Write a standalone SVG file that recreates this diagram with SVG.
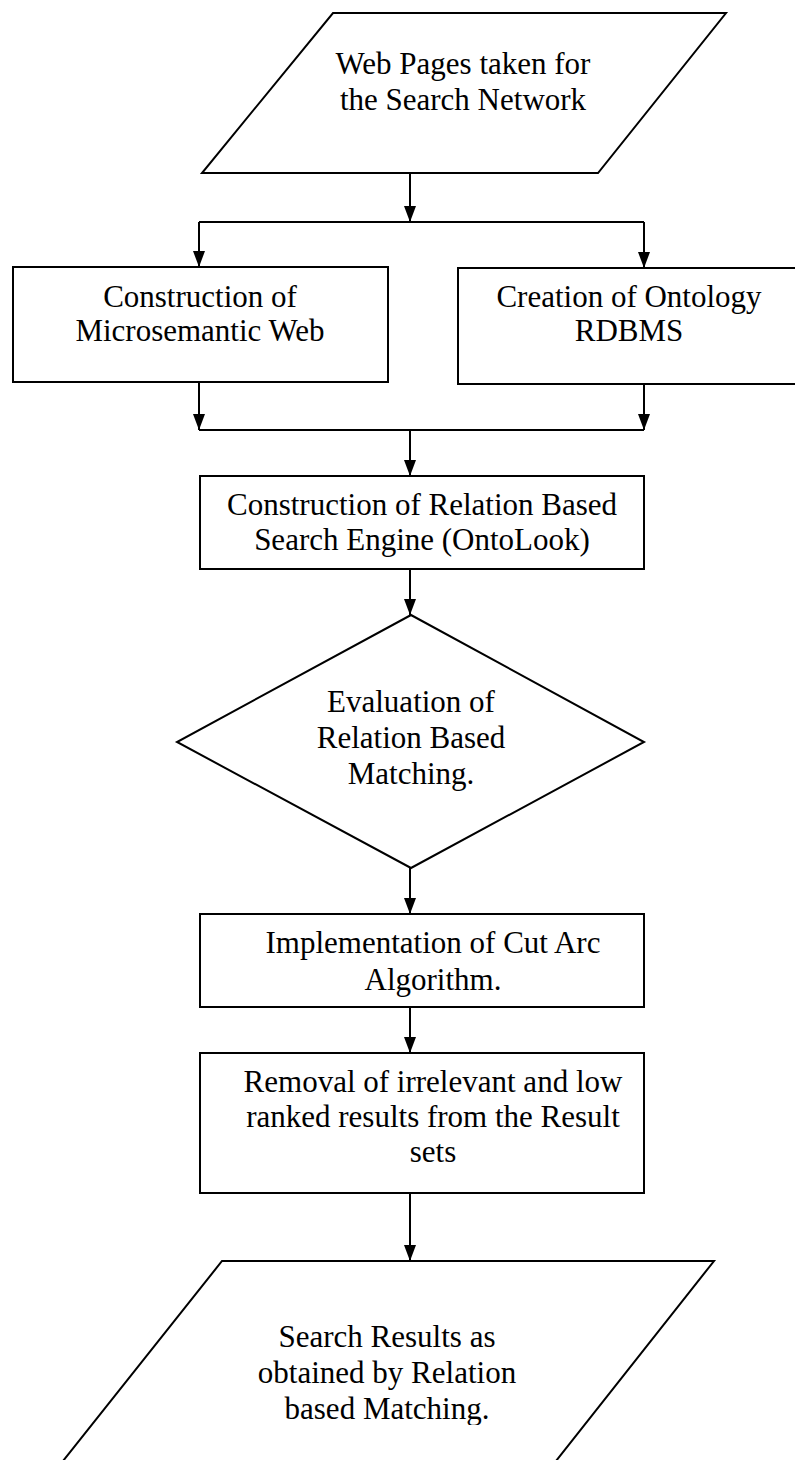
<svg xmlns="http://www.w3.org/2000/svg" width="795" height="1460" viewBox="0 0 795 1460">
<style>
.shape{fill:#fff;stroke:#000;stroke-width:2}
.conn{fill:none;stroke:#000;stroke-width:2}
.t{font-family:"Liberation Serif","Times New Roman",serif;font-size:31px;fill:#000;text-anchor:middle}
</style>
<defs>
<marker id="arr" viewBox="0 0 16 12" refX="16" refY="6" markerWidth="16" markerHeight="12" markerUnits="userSpaceOnUse" orient="auto">
<path d="M0,0 L16,6 L0,12 z" fill="#000"/>
</marker>
<clipPath id="clipBottom"><rect x="0" y="0" width="795" height="1425"/></clipPath>
</defs>
<rect x="0" y="0" width="795" height="1460" fill="#fff"/>

<g id="n-webpages">
<polygon class="shape" points="333,13 726,13 598,173 202,173"/>
<text class="t" x="463" y="74">Web Pages taken for</text>
<text class="t" x="463" y="110">the Search Network</text>
</g>

<g id="n-microsemantic">
<rect class="shape" x="13" y="267" width="375" height="115"/>
<text class="t" x="200" y="307">Construction of</text>
<text class="t" x="200" y="341">Microsemantic Web</text>
</g>

<g id="n-ontology">
<rect class="shape" x="458" y="268" width="345" height="116"/>
<text class="t" x="629" y="307">Creation of Ontology</text>
<text class="t" x="629" y="341">RDBMS</text>
</g>

<g id="n-searchengine">
<rect class="shape" x="200" y="476" width="444" height="93"/>
<text class="t" x="422" y="515">Construction of Relation Based</text>
<text class="t" x="422" y="550">Search Engine (OntoLook)</text>
</g>

<g id="n-evaluation">
<polygon class="shape" points="411,615 644,742 411,868 177,742"/>
<text class="t" x="411" y="712">Evaluation of</text>
<text class="t" x="411" y="748">Relation Based</text>
<text class="t" x="411" y="784">Matching.</text>
</g>

<g id="n-cutarc">
<rect class="shape" x="200" y="914" width="444" height="93"/>
<text class="t" x="433" y="953">Implementation of Cut Arc</text>
<text class="t" x="433" y="990">Algorithm.</text>
</g>

<g id="n-removal">
<rect class="shape" x="200" y="1053" width="444" height="140"/>
<text class="t" x="433" y="1092">Removal of irrelevant and low</text>
<text class="t" x="433" y="1127">ranked results from the Result</text>
<text class="t" x="433" y="1162">sets</text>
</g>

<g id="n-results">
<polygon class="shape" points="222,1261 714,1261 556,1461 63,1461"/>
<text class="t" x="387" y="1347">Search Results as</text>
<text class="t" x="387" y="1383">obtained by Relation</text>
<text class="t" x="387" y="1419" clip-path="url(#clipBottom)">based Matching.</text>
</g>

<g id="connectors">
<line class="conn" x1="410" y1="173" x2="410" y2="222" marker-end="url(#arr)"/>
<line class="conn" x1="199" y1="222" x2="644" y2="222"/>
<line class="conn" x1="199" y1="222" x2="199" y2="267" marker-end="url(#arr)"/>
<line class="conn" x1="644" y1="222" x2="644" y2="268" marker-end="url(#arr)"/>
<line class="conn" x1="199" y1="382" x2="199" y2="430" marker-end="url(#arr)"/>
<line class="conn" x1="644" y1="384" x2="644" y2="430" marker-end="url(#arr)"/>
<line class="conn" x1="199" y1="430" x2="644" y2="430"/>
<line class="conn" x1="410" y1="430" x2="410" y2="476" marker-end="url(#arr)"/>
<line class="conn" x1="410" y1="569" x2="410" y2="615" marker-end="url(#arr)"/>
<line class="conn" x1="410" y1="868" x2="410" y2="914" marker-end="url(#arr)"/>
<line class="conn" x1="410" y1="1007" x2="410" y2="1053" marker-end="url(#arr)"/>
<line class="conn" x1="410" y1="1193" x2="410" y2="1261" marker-end="url(#arr)"/>
</g>
</svg>
